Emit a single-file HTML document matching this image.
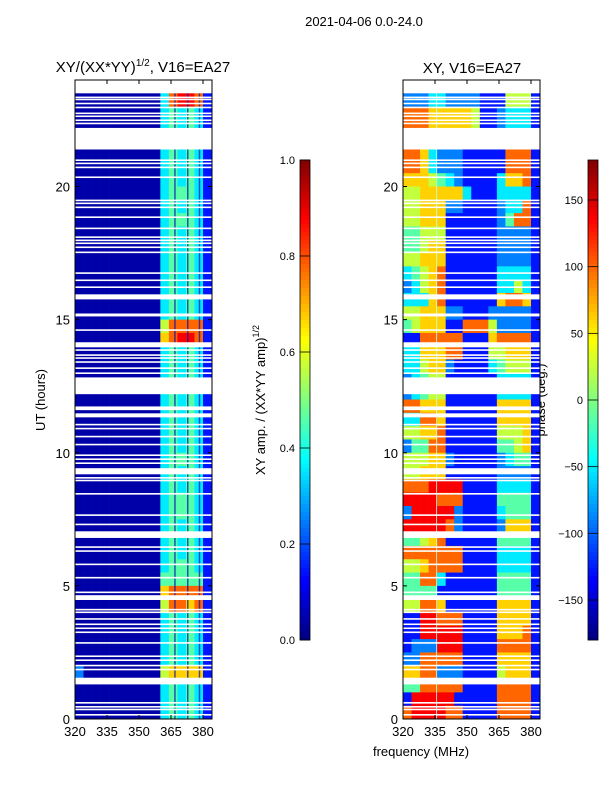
<!DOCTYPE html>
<html><head><meta charset="utf-8">
<style>
body{margin:0;background:#fff;}
svg text{font-family:"Liberation Sans","DejaVu Sans",sans-serif;fill:#000;}
</style></head>
<body>
<svg id="fig" width="600" height="800" viewBox="0 0 600 800" xmlns="http://www.w3.org/2000/svg">
<rect x="0" y="0" width="600" height="800" fill="#fff"/>
<text x="364" y="26" font-size="13" text-anchor="middle">2021-04-06 0.0-24.0</text>
<text x="143" y="72" font-size="15" text-anchor="middle">XY/(XX*YY)<tspan font-size="10" dy="-6">1/2</tspan><tspan dy="6">, V16=EA27</tspan></text>
<text x="472" y="73" font-size="15" text-anchor="middle">XY, V16=EA27</text>
<text transform="translate(45,400) rotate(-90)" font-size="13" text-anchor="middle">UT (hours)</text>
<text x="421" y="756" font-size="13" text-anchor="middle">frequency (MHz)</text>
<text transform="translate(265,400) rotate(-90)" font-size="13" text-anchor="middle">XY amp. / (XX*YY amp)<tspan font-size="9" dy="-6">1/2</tspan></text>
<text transform="translate(545,400) rotate(-90)" font-size="13" text-anchor="middle">phase (deg.)</text>
<g id="left"></g>
<g id="right"></g>
<g id="cbars"></g>
</svg>
<script>
// hours rows: row i covers [24-(i+1)*0.5, 24-i*0.5]; columns 4 MHz from 320
const freqStart = 320, freqStep = 4, hourStep = 0.5;
const ampRows = [
"0000000000378871","0000000000378871","0000000000343431","0000000000343431","0000000000343431","0000000000343431",
"0000000000343431","0000000000343431","0000000000344431","0000000000343431","0000000000344431","0000000000343431",
"0000000000343431","0000000000343431","0000000000343431","0000000000343431","0000000000343431","0000000000343431",
"0000000000577771","0000000000678871","0000000000343431","0000000000343431","0000000000343431","0000000000343431",
"0000000000343431","0000000000343431","0000000000343431","0000000000343431","0000000000344431","0000000000343431",
"0000000000343431","0000000000344431","0000000000344431","0000000000343431","0000000000343431","0000000000343431",
"0000000000344431","0000000000444441","0000000000677771","0000000000577671","0000000000343431","0000000000343431",
"0000000000343431","0000000000343431","2000000000566661","0000000000343431","0000000000343431","0000000000343431"];
const phaseRows = [
"2223322221115551","2223322221115551","7776666651123331","7776666651123331","7763222111117771","7763222111117771",
"7763222111117771","6665432111136671","5566666311133331","5566622111123371","5566611111124771","4455511111122221",
"4456611111122221","5566611111122221","3456711111133331","2356711111133531","3336711111167761","5566622111222221",
"4566611777522221","1177777111677771","3366677111556661","3356621111345551","2345511111133331","2345511111133331",
"7766611111166661","3377611111166661","5566711111155561","2447711111144561","5556621111123441","5566611111122221",
"7778888111133331","8888777111144441","2888882111134441","8888872111126661","4456711111144441","7777777111133331",
"5567777111133331","4477311111144441","4444111111144441","5577611111166661","1188777111166661","1188888111166671",
"1222888111177771","2277777111166661","6677222111156661","4477777111177771","1888881111177771","7888877111177771"];
const gapStart = [23.5,21.39,13.96,12.2,11.6,11.33,9.19,6.8,4.47,1.3,15.76,15.12];
const gapEnd   = [24.0,22.2,14.15,12.83,11.74,11.48,9.42,7.05,4.65,1.55,15.95,15.23];
const flagLines = [0.15,0.35,0.45,0.6,1.85,2.0,2.2,2.35,2.85,3.25,3.4,3.55,3.75,4.0,4.1,4.75,5.3,5.8,6.3,6.45,7.3,7.65,8.45,8.95,9.05,9.6,9.75,9.9,10.3,10.6,10.9,11.05,12.98,13.17,13.4,13.55,13.66,13.85,14.6,16.21,16.47,16.74,17.52,17.71,17.86,17.97,18.09,18.42,18.84,19.21,19.36,19.47,20.34,20.71,20.86,20.98,22.36,22.48,22.63,22.74,22.96,23.11,23.26,23.34];
const xTicks = [320,335,350,365,380];
const yTicks = [0,5,10,15,20];
const ampTicks = [0.0,0.2,0.4,0.6,0.8,1.0];
const phaseTicks = [-150,-100,-50,0,50,100,150];

const NS="http://www.w3.org/2000/svg";
function jet(t){t=Math.max(0,Math.min(1,t));
 const r=Math.max(0,Math.min(1,1.5-Math.abs(4*t-3))),g=Math.max(0,Math.min(1,1.5-Math.abs(4*t-2))),b=Math.max(0,Math.min(1,1.5-Math.abs(4*t-1)));
 return `rgb(${Math.round(r*255)},${Math.round(g*255)},${Math.round(b*255)})`;}
const digitT = d => 0.04 + d*0.105;
function mk(tag,attrs,parent){const e=document.createElementNS(NS,tag);for(const k in attrs)e.setAttribute(k,attrs[k]);parent.appendChild(e);return e;}
const yTop=80,yBot=719, pxH=(yBot-yTop)/24;
const yOf=h=>yBot-h*pxH;
const pxF=128/60;
function panel(g,x0,rows,name){
 const xOf=f=>x0+(f-320)*pxF;
 const xR=x0+137;
 rows.forEach((row,i)=>{for(let c=0;c<row.length;c++){
  const f0=freqStart+c*freqStep, f1=f0+freqStep;
  const xa=xOf(f0), xb=Math.min(xOf(f1),xR);
  const h1=24-i*hourStep, h0=h1-hourStep;
  const r=mk('rect',{x:xa,y:yOf(h1),width:xb-xa+0.3,height:yOf(h0)-yOf(h1)+0.3,fill:jet(digitT(+row[c]))},g);
  
  
 }});
 if(name==='amp'){[366.5,372.5,378].forEach(f=>{const l=mk('rect',{x:xOf(f),y:yTop,width:1.5,height:yBot-yTop,fill:'#0010b0',opacity:0.7},g);
  
  });}
 else{const l=mk('rect',{x:xOf(335.5),y:yTop,width:1,height:yBot-yTop,fill:'#bfe',opacity:0.8},g);
  
  }
 gapStart.forEach((s,k)=>{const r=mk('rect',{x:x0,y:yOf(gapEnd[k]),width:137,height:yOf(s)-yOf(gapEnd[k]),fill:'#fff'},g);
  
  });
 flagLines.forEach(h=>{const r=mk('rect',{x:x0,y:yOf(h)-1,width:137,height:1.6,fill:'#fff'},g);
  
  });
 const fr=mk('rect',{x:x0,y:yTop,width:137,height:yBot-yTop,fill:'none',stroke:'#000','stroke-width':1},g);
 
 
 xTicks.forEach(v=>{const x=xOf(v);
  mk('line',{x1:x,x2:x,y1:yBot,y2:yBot-4,stroke:'#000'},g);mk('line',{x1:x,x2:x,y1:yTop,y2:yTop+4,stroke:'#000'},g);
  const t=mk('text',{x:x,y:736,'font-size':13,'text-anchor':'middle'},g);t.textContent=v;
  
  });
 yTicks.forEach(v=>{const y=yOf(v);
  mk('line',{x1:x0,x2:x0+4,y1:y,y2:y,stroke:'#000'},g);mk('line',{x1:xR,x2:xR-4,y1:y,y2:y,stroke:'#000'},g);
  const t=mk('text',{x:x0-5,y:y+5,'font-size':13,'text-anchor':'end'},g);t.textContent=v;
  
  });
}
panel(document.getElementById('left'),75,ampRows,'amp');
panel(document.getElementById('right'),403,phaseRows,'phase');
function cbar(x,ticks,vmin,vmax,name,fmt){
 const g=document.getElementById('cbars');
 const cy0=160,cy1=640;
 for(let k=0;k<120;k++){const r=mk('rect',{x:x,y:cy0+k*4,width:10,height:4.3,fill:jet(1-(k+0.5)/120)},g);
  
  }
 mk('rect',{x:x,y:cy0,width:10,height:cy1-cy0,fill:'none',stroke:'#000','stroke-width':0.8},g);
 ticks.forEach(v=>{const y=cy1-(v-vmin)/(vmax-vmin)*(cy1-cy0);
  mk('line',{x1:x,x2:x+10,y1:y,y2:y,stroke:'#000','stroke-width':0.8},g);
  const t=mk('text',{x:x-5,y:y+4,'font-size':11,'text-anchor':'end'},g);t.textContent=fmt(v);
  
  });
}
cbar(300,ampTicks,0,1,'amp-colorbar',v=>v.toFixed(1));
cbar(588,phaseTicks,-180,180,'phase-colorbar',v=>v<0?'\u2212'+(-v):String(v));
</script>
</body></html>
